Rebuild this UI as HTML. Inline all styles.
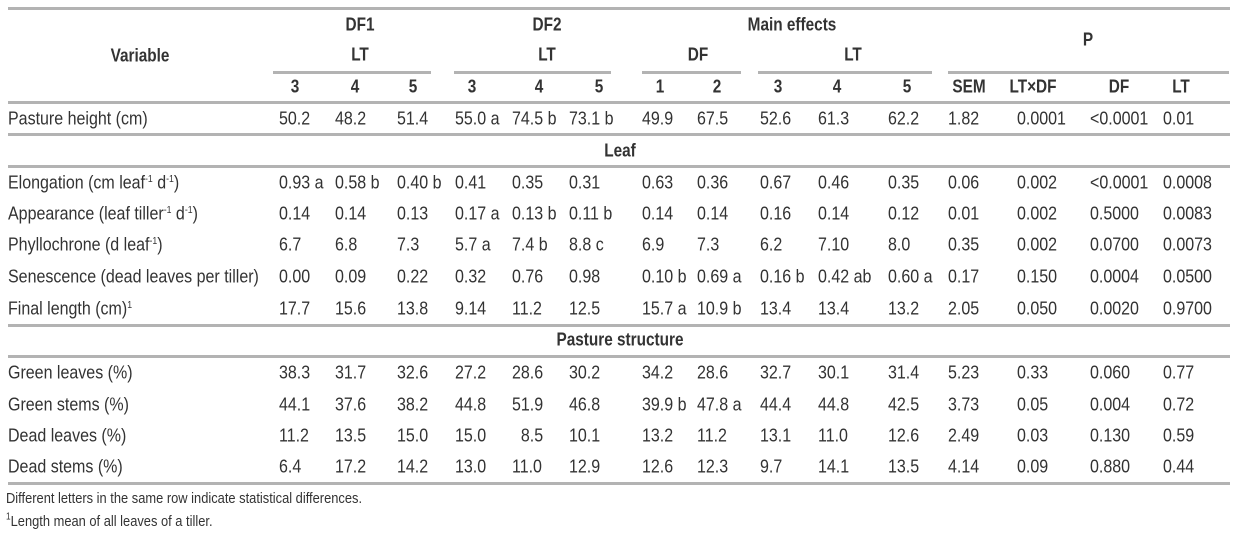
<!DOCTYPE html>
<html><head><meta charset="utf-8"><style>
body{margin:0;width:1239px;height:539px;background:#fff;position:relative;overflow:hidden;font-family:"Liberation Sans",Arial,sans-serif;font-size:16.5px;color:#333}
.t{position:absolute;white-space:nowrap;line-height:20px;transform:translateY(-10px) scale(0.97,1.12);transform-origin:left center}
.c{transform:translate(-50%,-10px) scale(0.93,1.12);transform-origin:center center}
.b{font-weight:bold}
.ln{position:absolute;height:3px;background:#b3b3b3}
sup{font-size:9px;vertical-align:6px;line-height:0}
</style></head><body>
<script>
const lines=[[7,8,1230],[71,273,431],[71,454,611],[71,642,741],[71,758,932],[71,948,1229],[101,8,1230],[133,8,1230],[165,8,1230],[324,8,1230],[355,8,1230],[482,8,1230]];
const colX=[279,335,397,455,512,569,642,697,760,818,888,948,1017,1090,1163];
const hdrNums=[["3",295],["4",355],["5",413],["3",472],["4",539],["5",599],["1",660],["2",717],["3",778],["4",837],["5",907],["SEM",969],["LT×DF",1033],["DF",1119],["LT",1181]];
const rows=[
[119,"Pasture height (cm)",["50.2","48.2","51.4","55.0 a","74.5 b","73.1 b","49.9","67.5","52.6","61.3","62.2","1.82","0.0001","<0.0001","0.01"]],
[183,"Elongation (cm leaf<sup>-1</sup> d<sup>-1</sup>)",["0.93 a","0.58 b","0.40 b","0.41","0.35","0.31","0.63","0.36","0.67","0.46","0.35","0.06","0.002","<0.0001","0.0008"]],
[214,"Appearance (leaf tiller<sup>-1</sup> d<sup>-1</sup>)",["0.14","0.14","0.13","0.17 a","0.13 b","0.11 b","0.14","0.14","0.16","0.14","0.12","0.01","0.002","0.5000","0.0083"]],
[245,"Phyllochrone (d leaf<sup>-1</sup>)",["6.7","6.8","7.3","5.7 a","7.4 b","8.8 c","6.9","7.3","6.2","7.10","8.0","0.35","0.002","0.0700","0.0073"]],
[277,"Senescence (dead leaves per tiller)",["0.00","0.09","0.22","0.32","0.76","0.98","0.10 b","0.69 a","0.16 b","0.42 ab","0.60 a","0.17","0.150","0.0004","0.0500"]],
[309,"Final length (cm)<sup>1</sup>",["17.7","15.6","13.8","9.14","11.2","12.5","15.7 a","10.9 b","13.4","13.4","13.2","2.05","0.050","0.0020","0.9700"]],
[373,"Green leaves (%)",["38.3","31.7","32.6","27.2","28.6","30.2","34.2","28.6","32.7","30.1","31.4","5.23","0.33","0.060","0.77"]],
[405,"Green stems (%)",["44.1","37.6","38.2","44.8","51.9","46.8","39.9 b","47.8 a","44.4","44.8","42.5","3.73","0.05","0.004","0.72"]],
[436,"Dead leaves (%)",["11.2","13.5","15.0","15.0","&#8199;8.5","10.1","13.2","11.2","13.1","11.0","12.6","2.49","0.03","0.130","0.59"]],
[467,"Dead stems (%)",["6.4","17.2","14.2","13.0","11.0","12.9","12.6","12.3","9.7","14.1","13.5","4.14","0.09","0.880","0.44"]]];
function add(html,x,y,cls,name){const d=document.createElement('div');d.className='t '+cls;d.style.left=x+'px';d.style.top=y+'px';d.innerHTML=html;


document.body.appendChild(d);}
lines.forEach(l=>{const d=document.createElement('div');d.className='ln';d.style.top=l[0]+'px';d.style.left=l[1]+'px';d.style.width=(l[2]-l[1])+'px';


document.body.appendChild(d);});
add("Variable",140,56,"c b","variable-header");
add("DF1",360,25,"c b","df1-header");add("LT",360,55,"c b","df1-lt-header");
add("DF2",547,25,"c b","df2-header");add("LT",547,55,"c b","df2-lt-header");
add("Main effects",792,25,"c b","main-effects-header");add("DF",698,55,"c b","main-df-header");add("LT",853,55,"c b","main-lt-header");
add("P",1088,40,"c b","p-header");
hdrNums.forEach(h=>add(h[0],h[1],87,"c b","column-header"));
add("Leaf",620,151,"c b","leaf-section");
add("Pasture structure",620,340,"c b","pasture-structure-section");
rows.forEach(r=>{add(r[1],8,r[0],"","row-label");r[2].forEach((v,i)=>add(v,colX[i],r[0],"","cell-value"));});
const fn=document.createElement('div');fn.style.cssText="position:absolute;left:6px;top:487px;font-size:14px;line-height:21px;transform:scale(0.92,1.08);transform-origin:left top";
fn.innerHTML="Different letters in the same row indicate statistical differences.<br><sup>1</sup>Length mean of all leaves of a tiller.";


document.body.appendChild(fn);
</script>
</body></html>
